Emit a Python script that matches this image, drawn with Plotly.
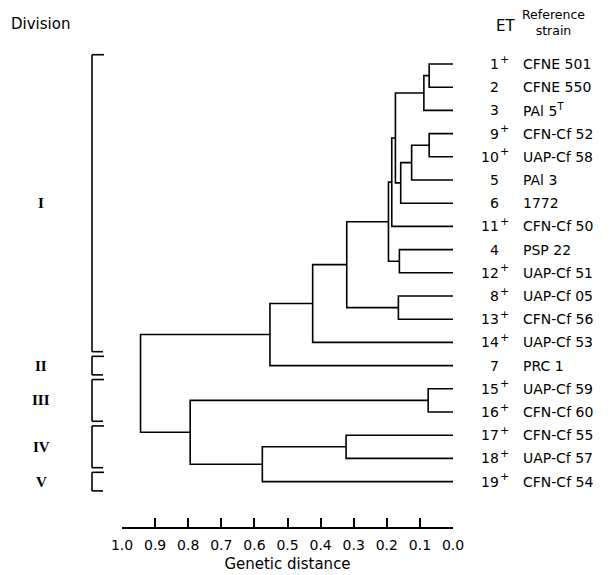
import plotly.graph_objects as go

# ---------------- data ----------------
et_labels = ["1", "2", "3", "9", "10", "5", "6", "11", "4", "12",
             "8", "13", "14", "7", "15", "16", "17", "18", "19"]
et_plus = [True, False, False, True, True, False, False, True, False, True,
           True, True, True, False, True, True, True, True, True]
strains = ["CFNE 501", "CFNE 550", "PAl 5<sup>T</sup>", "CFN-Cf 52", "UAP-Cf 58",
           "PAl 3", "1772", "CFN-Cf 50", "PSP 22", "UAP-Cf 51",
           "UAP-Cf 05", "CFN-Cf 56", "UAP-Cf 53", "PRC 1", "UAP-Cf 59",
           "CFN-Cf 60", "CFN-Cf 55", "UAP-Cf 57", "CFN-Cf 54"]

# linkage: cluster ids 0..18 are leaves (in display order), new clusters from 19
merge_left = [0, 19, 3, 21, 22, 20, 24, 8, 25, 10, 27, 29, 30, 14, 16, 33, 32, 31]
merge_right = [1, 2, 4, 5, 6, 23, 7, 9, 26, 11, 28, 12, 13, 15, 17, 18, 34, 35]
merge_height = [0.072, 0.088, 0.072, 0.125, 0.158, 0.174, 0.185, 0.162, 0.195,
                0.165, 0.321, 0.424, 0.553, 0.075, 0.323, 0.576, 0.794, 0.944]

div_names = ["I", "II", "III", "IV", "V"]
div_first = [0, 13, 14, 16, 18]
div_last = [12, 13, 15, 17, 18]

tick_vals = [1.0, 0.9, 0.8, 0.7, 0.6, 0.5, 0.4, 0.3, 0.2, 0.1, 0.0]
tick_text = ["1.0", "0.9", "0.8", "0.7", "0.6", "0.5", "0.4", "0.3", "0.2", "0.1", "0.0"]

# ---------------- build dendrogram segments ----------------
n = len(et_labels)
node_y = {i: float(i) for i in range(n)}
node_h = {i: 0.0 for i in range(n)}
xs, ys = [], []
for k, (a, b, h) in enumerate(zip(merge_left, merge_right, merge_height)):
    cid = n + k
    ya, yb = node_y[a], node_y[b]
    xs += [node_h[a], h, h, node_h[b], None]
    ys += [ya, ya, yb, yb, None]
    node_y[cid] = (ya + yb) / 2
    node_h[cid] = h

# ---------------- layout geometry ----------------
W, H = 613, 575
OFF = 8                      # page body margin
L, T = 122 - OFF, 40 - OFF
PW, PH = 331, 487
R, B = W - L - PW, H - T - PH


def px_x(px):
    return (px - OFF - L) / PW


def px_y(py):
    return (T + PH - (py - OFF)) / PH


FONT = "DejaVu Sans"
fig = go.Figure()
fig.add_trace(go.Scatter(x=xs, y=ys, mode="lines",
                         line=dict(color="black", width=1.6),
                         hoverinfo="skip", showlegend=False))

shapes = []
annotations = []
for name, f, l in zip(div_names, div_first, div_last):
    y0, y1 = f - 0.4, l + 0.4
    for seg in [(px_x(92), y0, px_x(92), y1),
                (px_x(92), y0, px_x(104), y0),
                (px_x(92), y1, px_x(103), y1)]:
        shapes.append(dict(type="line", xref="paper", yref="y",
                           x0=seg[0], y0=seg[1], x1=seg[2], y1=seg[3],
                           line=dict(color="black", width=1.6)))
    annotations.append(dict(xref="paper", yref="y", x=px_x(41), y=(f + l) / 2,
                            text="<b>%s</b>" % name, showarrow=False,
                            font=dict(family="Liberation Serif", size=15, color="black"),
                            xanchor="center", yanchor="middle"))

for i, (et, plus, st) in enumerate(zip(et_labels, et_plus, strains)):
    annotations.append(dict(xref="paper", yref="y", x=px_x(501), y=i,
                            text=et, showarrow=False, font=dict(family=FONT, size=14),
                            xanchor="right", yanchor="middle"))
    if plus:
        annotations.append(dict(xref="paper", yref="y", x=px_x(498), y=i,
                                text="+", showarrow=False, yshift=5,
                                font=dict(family=FONT, size=11),
                                xanchor="left", yanchor="middle"))
    annotations.append(dict(xref="paper", yref="y", x=px_x(521), y=i,
                            text=st, showarrow=False, font=dict(family=FONT, size=14),
                            xanchor="left", yanchor="middle"))

annotations += [
    dict(xref="paper", yref="paper", x=px_x(9), y=px_y(24), text="Division",
         showarrow=False, font=dict(family=FONT, size=15), xanchor="left", yanchor="middle"),
    dict(xref="paper", yref="paper", x=px_x(505), y=px_y(26), text="ET",
         showarrow=False, font=dict(family=FONT, size=15), xanchor="center", yanchor="middle"),
    dict(xref="paper", yref="paper", x=px_x(553), y=px_y(23), text="Reference<br>strain",
         showarrow=False, font=dict(family=FONT, size=12.5), xanchor="center",
         yanchor="middle", align="center"),
]

fig.update_layout(
    width=W, height=H,
    margin=dict(l=L, r=R, t=T, b=B, pad=0),
    paper_bgcolor="white", plot_bgcolor="white",
    font=dict(family=FONT, size=13, color="black"),
    shapes=shapes, annotations=annotations,
    xaxis=dict(range=[1.0, 0.0], tickvals=tick_vals, ticktext=tick_text,
               showgrid=False, zeroline=False, showline=True, linecolor="black",
               linewidth=1.6, ticks="inside", ticklen=9, tickwidth=1.6,
               tickcolor="black", tickfont=dict(family=FONT, size=14),
               ticklabelstandoff=4,
               title=dict(text="Genetic distance", font=dict(family=FONT, size=15),
                          standoff=7)),
    yaxis=dict(range=[19.957, -1.0345], visible=False, showgrid=False, zeroline=False),
)

fig.write_html("out.html")
